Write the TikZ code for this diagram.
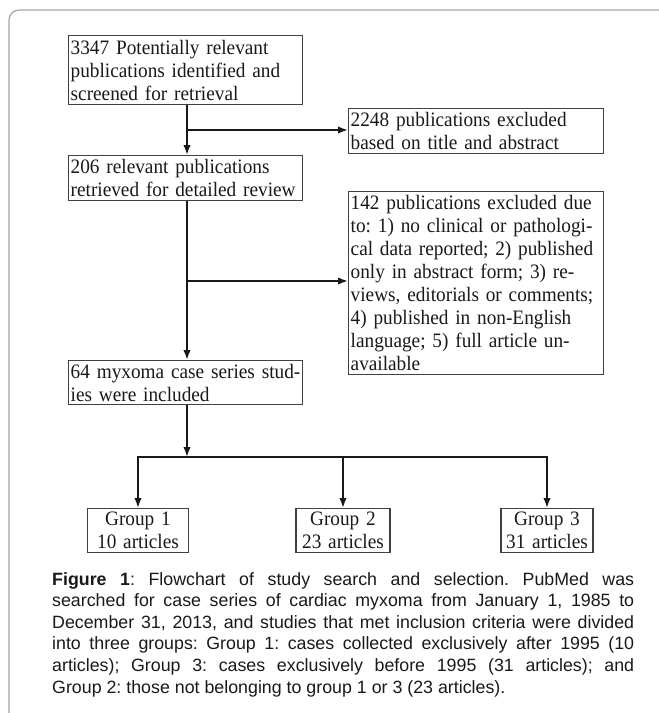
\documentclass[tikz,border=0pt]{standalone}
\usepackage{fontspec}
\setmainfont{Liberation Serif}[FakeStretch=0.94]
\newfontfamily\capfont{Liberation Sans}
\usetikzlibrary{arrows.meta}
\frenchspacing
\newcommand\bx[1]{\mbox{#1}}
\begin{document}
\begin{tikzpicture}[x=1pt,y=-1pt,
  box/.style={draw=black!75, line width=1.4pt, inner xsep=2pt, inner ysep=0pt,
    font=\fontsize{20.5}{23}\selectfont, align=left, text=black!90, anchor=north west},
  mainbox/.style={box, text width=230pt},
  exbox/.style={box, text width=251pt},
  grp/.style={box, align=center, anchor=north, inner xsep=0pt, minimum height=44pt},
  conn/.style={line width=1.8pt, black!90},
  arr/.style={conn, -{Latex[length=10pt,width=7.5pt]}},
]
\useasboundingbox (0,0) rectangle (659,713);
\draw[black!35, line width=1.2pt, rounded corners=10pt] (9,713) -- (9,10) -- (659,10);

\node[mainbox, minimum height=69pt] (b1) at (68,35) {\bx{3347 Potentially relevant}\\\bx{publications identified and}\\\bx{screened for retrieval}};
\node[exbox, minimum height=45pt] (b2) at (348,108) {\bx{2248 publications excluded}\\\bx{based on title and abstract}};
\node[mainbox, minimum height=45pt] (b3) at (68,155) {\bx{206 relevant publications}\\\bx{retrieved for detailed review}};
\node[exbox, minimum height=183pt] (b4) at (348,191) {\bx{142 publications excluded due}\\\bx{to: 1) no clinical or pathologi-}\\\bx{cal data reported; 2) published}\\\bx{only in abstract form; 3) re-}\\\bx{views, editorials or comments;}\\\bx{4) published in non-English}\\\bx{language; 5) full article un-}\\\bx{available}};
\node[mainbox, minimum height=44pt] (b5) at (68,360) {\bx{64 myxoma case series stud-}\\\bx{ies were included}};
\node[grp, text width=101pt] (g1) at (138,508) {Group 1\\10 articles};
\node[grp, text width=94pt] (g2) at (343,508) {Group 2\\23 articles};
\node[grp, text width=92pt] (g3) at (547,508) {Group 3\\31 articles};

\coordinate (j1) at (187,130);
\coordinate (j2) at (187,281);
\coordinate (sp) at (187,457);
\draw[arr] (b1.south -| j1) -- (b3.north -| j1);
\draw[arr] (j1) -- (j1 -| b2.west);
\draw[arr] (b3.south -| j1) -- (b5.north -| j1);
\draw[arr] (j2) -- (j2 -| b4.west);
\draw[arr] (b5.south -| j1) -- (sp);
\draw[conn, line cap=rect] (g1.north |- sp) -- (g3.north |- sp);
\draw[arr] (g1.north |- sp) -- (g1.north);
\draw[arr] (g2.north |- sp) -- (g2.north);
\draw[arr] (g3.north |- sp) -- (g3.north);

\node[anchor=north west, text width=582pt, align=justify, inner sep=0pt,
  font=\capfont\fontsize{17.8}{21.6}\selectfont, text=black!90] (cap) at (52,572)
  {\textbf{Figure 1}: Flowchart of study search and selection. PubMed was\linebreak
   searched for case series of cardiac myxoma from January 1, 1985 to\linebreak
   December 31, 2013, and studies that met inclusion criteria were divided\linebreak
   into three groups: Group 1: cases collected exclusively after 1995 (10\linebreak
   articles); Group 3: cases exclusively before 1995 (31 articles); and\linebreak
   Group 2: those not belonging to group 1 or 3 (23 articles).};
\end{tikzpicture}
\end{document}
